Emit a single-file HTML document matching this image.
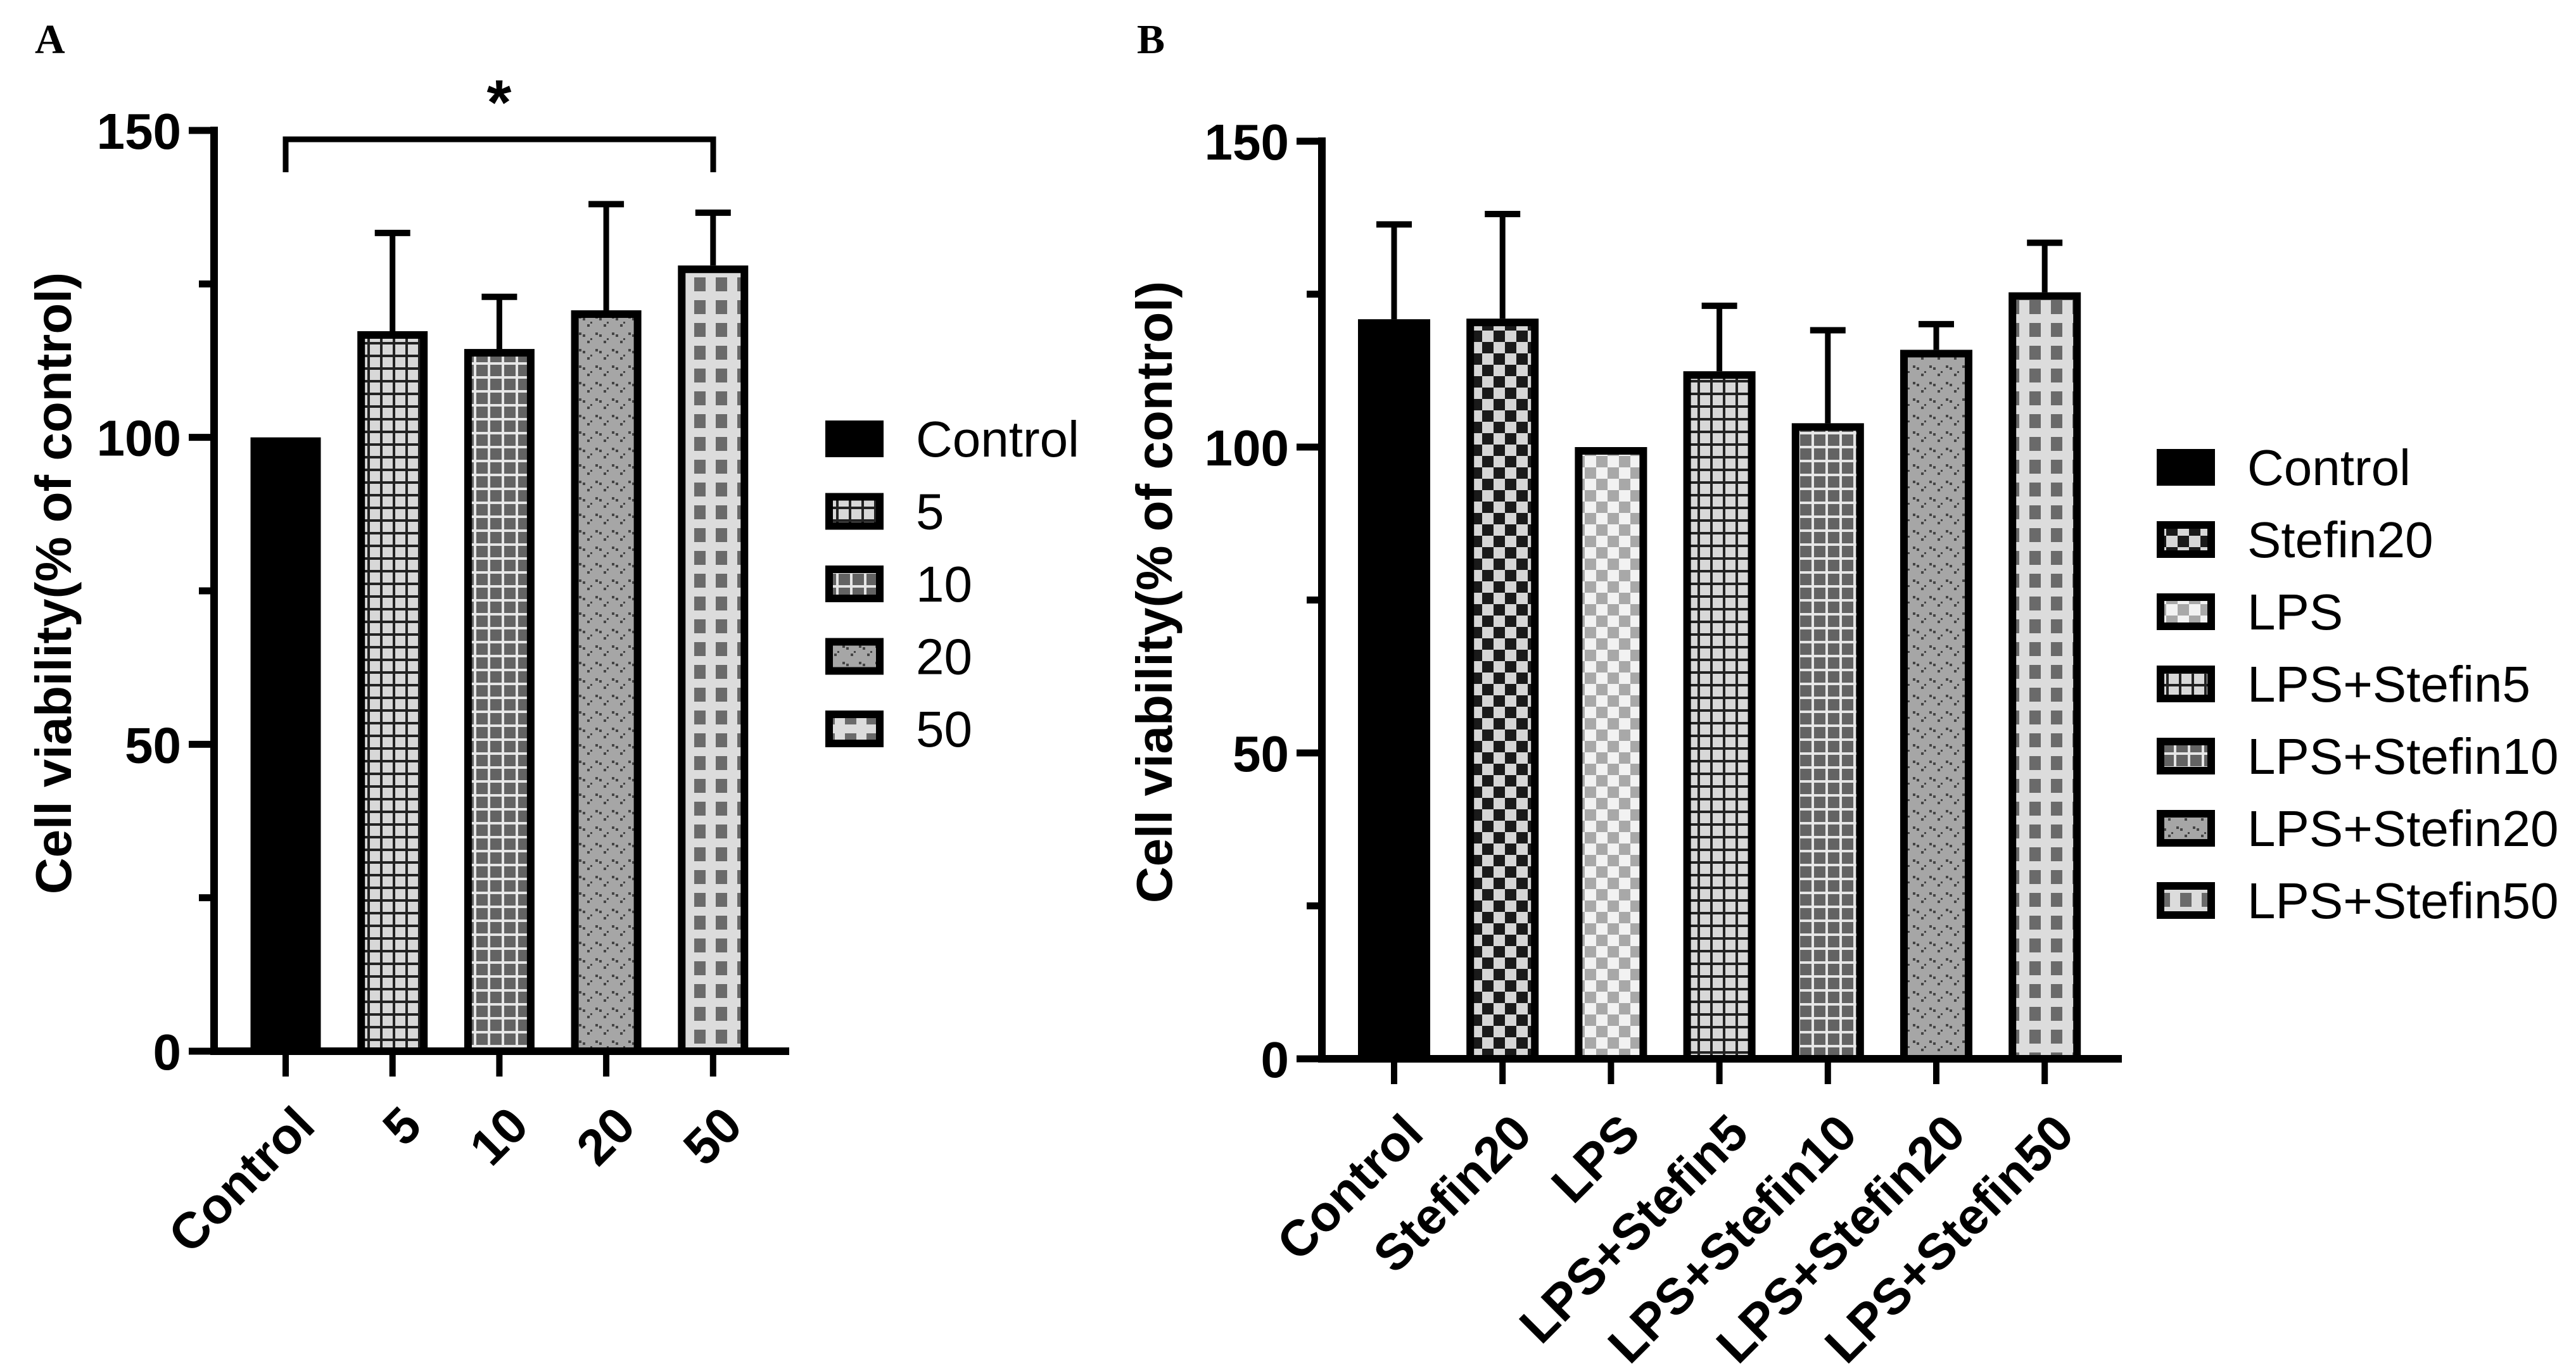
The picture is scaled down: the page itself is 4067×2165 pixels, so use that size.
<!DOCTYPE html>
<html><head><meta charset="utf-8"><style>
html,body{margin:0;padding:0;background:#fff;}
svg{display:block;}
text{font-family:"Liberation Sans",Arial,sans-serif;}
text.serif{font-family:"Liberation Serif",serif;}
</style></head><body>
<svg id="fig" width="4067" height="2165" viewBox="0 0 4067 2165" xmlns="http://www.w3.org/2000/svg">
<defs>
<pattern id="p-grid-light" width="20" height="20" patternUnits="userSpaceOnUse"><rect width="20" height="20" fill="#d8d8d8"/><rect x="0" y="0" width="4" height="20" fill="#222"/><rect x="0" y="0" width="20" height="4" fill="#222"/></pattern>
<pattern id="p-grid-dark" width="22" height="22" patternUnits="userSpaceOnUse"><rect width="22" height="22" fill="#636363"/><rect x="0" y="0" width="4" height="22" fill="#e6e6e6"/><rect x="0" y="0" width="22" height="4" fill="#e6e6e6"/></pattern>
<pattern id="p-dots" width="26" height="26" patternUnits="userSpaceOnUse"><rect width="26" height="26" fill="#a6a6a6"/><rect x="4" y="5" width="4" height="4" fill="#444"/><rect x="10" y="8" width="4" height="4" fill="#444"/><rect x="17" y="18" width="4" height="4" fill="#444"/><rect x="22" y="14" width="3" height="3" fill="#444"/></pattern>
<pattern id="p-squares" width="34" height="36" patternUnits="userSpaceOnUse"><rect width="34" height="36" fill="#dcdcdc"/><rect x="8" y="6" width="18" height="22" fill="#6a6a6a"/></pattern>
<pattern id="p-checker-dark" width="36" height="36" patternUnits="userSpaceOnUse"><rect width="36" height="36" fill="#d6d6d6"/><rect x="0" y="0" width="18" height="18" fill="#1a1a1a"/><rect x="18" y="18" width="18" height="18" fill="#1a1a1a"/></pattern>
<pattern id="p-checker-light" width="36" height="36" patternUnits="userSpaceOnUse"><rect width="36" height="36" fill="#f2f2f2"/><rect x="0" y="0" width="18" height="18" fill="#a8a8a8"/><rect x="18" y="18" width="18" height="18" fill="#a8a8a8"/></pattern>
</defs>
<g id="panelA"></g>
<g id="panelB"></g>
</svg>
<script>
// ---- Panel A data ----
const catsA = ["Control","5","10","20","50"];
const valsA = [100, 117.3, 114.4, 120.7, 128.0];
const errA = [0, 16.0, 8.5, 17.3, 8.6];
const fillsA = ["#000","url(#p-grid-light)","url(#p-grid-dark)","url(#p-dots)","url(#p-squares)"];
// ---- Panel B data ----
const catsB = ["Control","Stefin20","LPS","LPS+Stefin5","LPS+Stefin10","LPS+Stefin20","LPS+Stefin50"];
const valsB = [120.9, 121.0, 100, 112.4, 103.9, 115.9, 125.3];
const errB = [15.5, 17.1, 0, 10.7, 15.2, 4.2, 8.1];
const fillsB = ["#000","url(#p-checker-dark)","url(#p-checker-light)","url(#p-grid-light)","url(#p-grid-dark)","url(#p-dots)","url(#p-squares)"];
const ticksY = [0,50,100,150];
const minorY = [25,75,125];

const NS="http://www.w3.org/2000/svg";
function mk(parent,tag,attrs,txt){const e=document.createElementNS(NS,tag);for(const k in attrs)e.setAttribute(k,attrs[k]);if(txt!==undefined)e.textContent=txt;parent.appendChild(e);return e;}

function drawPanel(g,cfg,cats,vals,errs,fills){
  const y=v=>cfg.y0-(v/150)*(cfg.y0-cfg.y150);
  const x=i=>cfg.x0+i*cfg.step;
  const L=mk(g,"text",{x:cfg.letterX,y:84,"class":"serif","font-weight":"bold","font-size":66},cfg.letter);
  
  
  cats.forEach((c,i)=>{
    const bw=cfg.bw, top=y(vals[i]);
    if(errs[i]>0){
      const et=y(vals[i]+errs[i]);
      const ln=mk(g,"line",{x1:x(i),x2:x(i),y1:top,y2:et,stroke:"#000","stroke-width":9});
      
      
      const cap=mk(g,"line",{x1:x(i)-28,x2:x(i)+28,y1:et,y2:et,stroke:"#000","stroke-width":10});
      
      
    }
    const r=mk(g,"rect",{x:x(i)-bw/2+6,y:top+6,width:bw-12,height:cfg.y0-top-6,fill:fills[i],stroke:"#000","stroke-width":12});
    
    
    const t=mk(g,"line",{x1:x(i),x2:x(i),y1:cfg.y0,y2:cfg.y0+40,stroke:"#000","stroke-width":10});
    
    
    const lx=x(i)+50, ly=cfg.y0+122;
    const lb=mk(g,"text",{x:lx,y:ly,"font-weight":"bold","font-size":80,"text-anchor":"end",transform:`rotate(-45 ${lx} ${ly})`},c);
    
    
  });
  const ya=mk(g,"line",{x1:cfg.axX,x2:cfg.axX,y1:cfg.y150-6,y2:cfg.y0+6,stroke:"#000","stroke-width":12});
  
  
  const xa=mk(g,"line",{x1:cfg.axX-6,x2:cfg.axEnd,y1:cfg.y0,y2:cfg.y0,stroke:"#000","stroke-width":12});
  
  
  ticksY.forEach(v=>{
    const tk=mk(g,"line",{x1:cfg.axX-40,x2:cfg.axX,y1:y(v),y2:y(v),stroke:"#000","stroke-width":11});
    
    
    const tl=mk(g,"text",{x:cfg.axX-52,y:y(v)+29,"font-weight":"bold","font-size":80,"text-anchor":"end"},String(v));
    
    
  });
  minorY.forEach(v=>{
    const tk=mk(g,"line",{x1:cfg.axX-24,x2:cfg.axX,y1:y(v),y2:y(v),stroke:"#000","stroke-width":11});
    
    
  });
  const yt=mk(g,"text",{x:cfg.titleX,y:cfg.titleY,"font-weight":"bold","font-size":80,"text-anchor":"middle",transform:`rotate(-90 ${cfg.titleX} ${cfg.titleY})`},"Cell viability(% of control)");
  
  
  cats.forEach((c,i)=>{
    const ry=cfg.legY+i*cfg.legStep;
    const sw=mk(g,"rect",{x:cfg.legX+6,y:ry-23,width:80,height:46,fill:fills[i],stroke:"#000","stroke-width":12});
    
    
    const lt=mk(g,"text",{x:cfg.legX+143,y:ry+28,"font-size":80},c);
    
    
  });
}

drawPanel(document.getElementById('panelA'),
 {letter:"A",letterX:55,x0:451,step:168.7,bw:111,axX:338,axEnd:1246,y0:1660,y150:206,titleX:112,titleY:921,legX:1303,legY:693,legStep:114.5},
 catsA,valsA,errA,fillsA);
drawPanel(document.getElementById('panelB'),
 {letter:"B",letterX:1795,x0:2201,step:171.2,bw:114,axX:2087,axEnd:3350,y0:1672,y150:223,titleX:1850,titleY:935,legX:3405,legY:738,legStep:114},
 catsB,valsB,errB,fillsB);

const gA=document.getElementById('panelA');
const br=mk(gA,"path",{d:"M451 272 V220 H1126 V272",fill:"none",stroke:"#000","stroke-width":9});


const st=mk(gA,"text",{x:788,y:196,"font-weight":"bold","font-size":100,"text-anchor":"middle"},"*");


</script>
</body></html>
